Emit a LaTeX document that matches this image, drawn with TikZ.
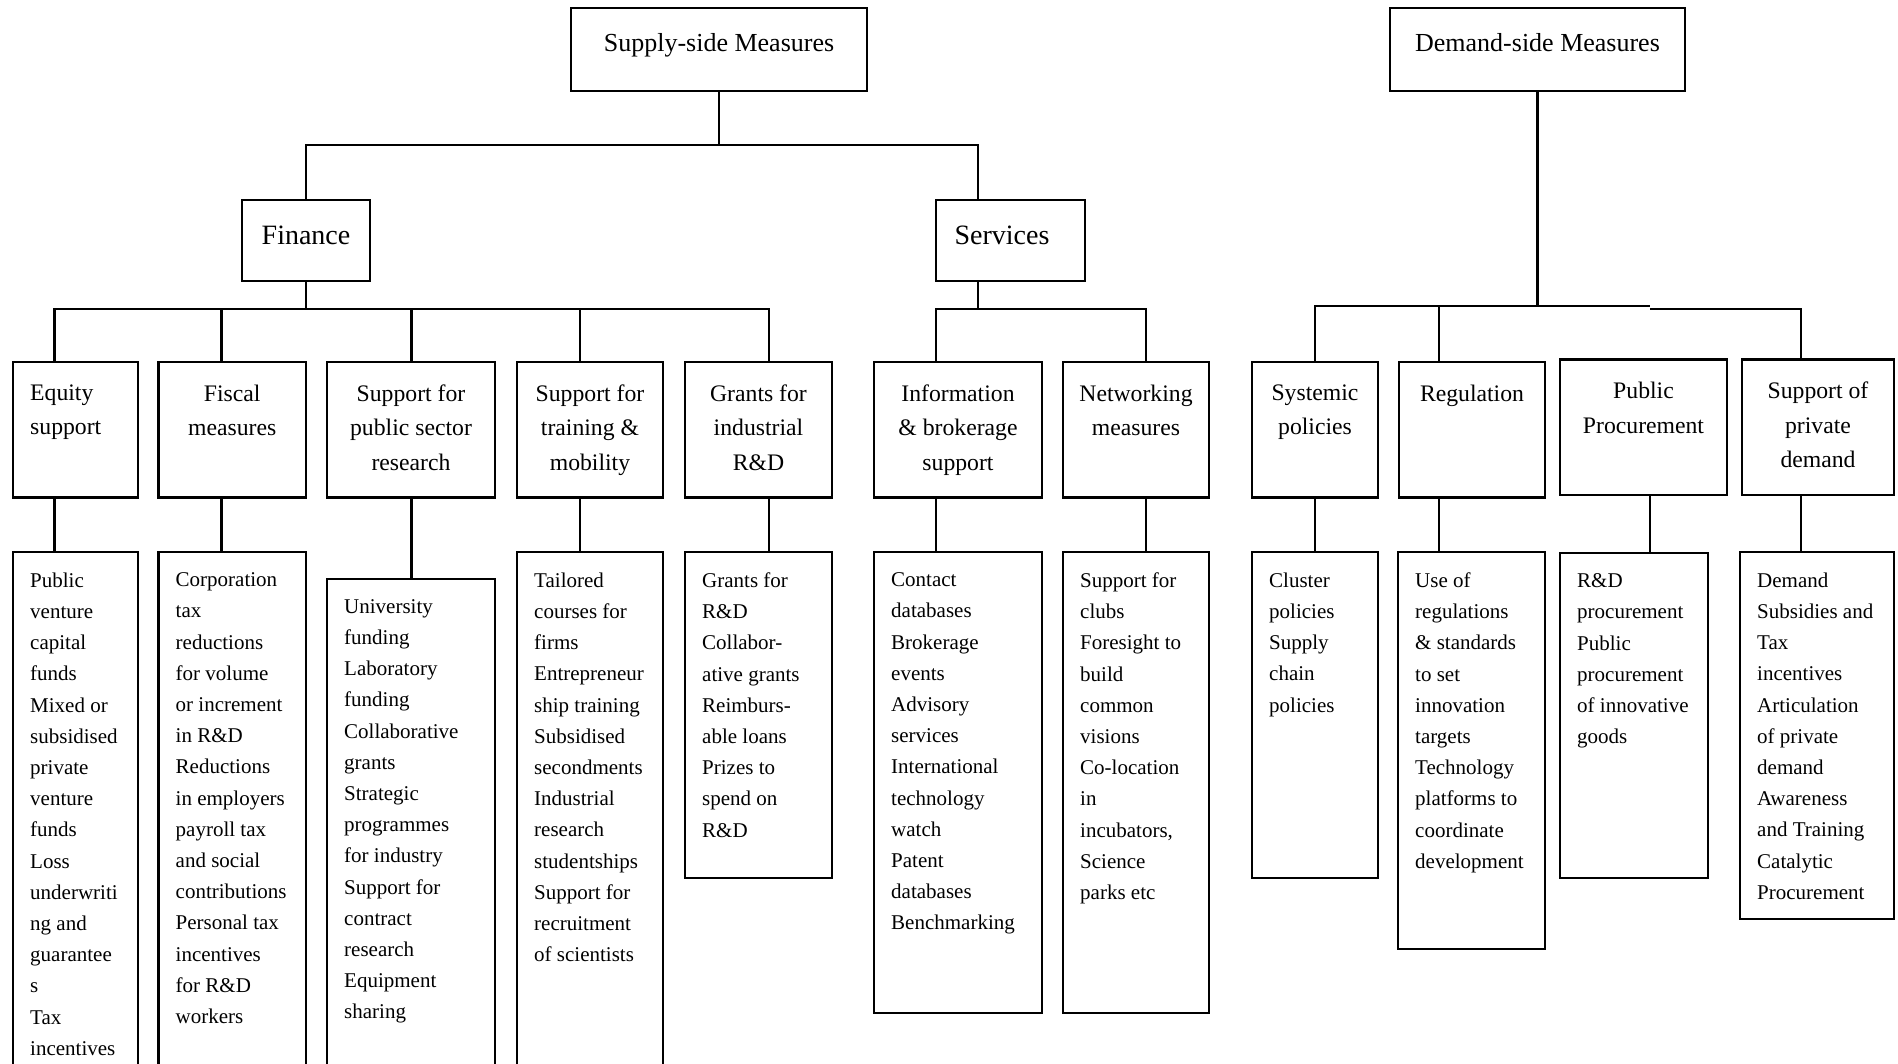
\documentclass[tikz,border=0pt]{standalone}
\usepackage{fontspec}
\setmainfont{Liberation Serif}
\usetikzlibrary{positioning}

\tikzset{
  panel/.style={draw, line width=2.2pt, inner sep=0pt, outer sep=0pt, anchor=north west},
  wire/.style={line width=2.2pt},
  toptext/.style={font=\fontsize{26}{30}\selectfont, inner sep=0pt},
  midtext/.style={font=\fontsize{28}{32}\selectfont, inner sep=0pt},
  headtext/.style={font=\fontsize{23.7}{34.5}\selectfont, align=center, inner sep=0pt},
  listtext/.style={font=\fontsize{21}{31.2}\selectfont, align=left, inner sep=0pt}
}

\begin{document}
\begin{tikzpicture}[x=1pt, y=-1pt]
  \useasboundingbox (0,0) rectangle (1898,1063);
  \clip (0,0) rectangle (1898,1063);

  % top levels
  \node[panel, minimum width=296pt, minimum height=83pt] (sup) at (571,8) {};
  \node[panel, minimum width=295pt, minimum height=83pt] (dem) at (1390,8) {};
  \node[panel, minimum width=128pt, minimum height=81pt] (fin) at (242,200) {};
  \node[panel, minimum width=149pt, minimum height=81pt] (ser) at (936,200) {};
  \node[toptext, below=25pt of sup.north] (sup-t) {Supply-side Measures};
  \node[toptext, below=25pt of dem.north] (dem-t) {Demand-side Measures};
  \node[midtext, below=25.5pt of fin.north] (fin-t) {Finance};
  \node[midtext, below=25.5pt of ser.north, xshift=-8.5pt] (ser-t) {Services};

  % measure headers
  \foreach \n/\x/\w in {eq/13/125, fi/158.5/147.5, ps/327/168, tr/517/146, gr/685/147,
                        in/874/168, ne/1063/146, sy/1252/126, re/1399/146}
    \node[panel, minimum width=\w pt, minimum height=135.5pt] (\n-h) at (\x,362) {};
  \node[panel, minimum width=167pt, minimum height=135.5pt] (pp-h) at (1560,359.5) {};
  \node[panel, minimum width=152pt, minimum height=135.5pt] (pr-h) at (1742,359.5) {};

  % instrument lists
  \foreach \n/\x/\y/\w/\h in {eq/13/552/125/520, fi/158.5/552/147.5/520, ps/327/578.6/168/500,
                              tr/517/552/146/520, gr/685/552/147/325.6, in/874/552/168/461,
                              ne/1063/552/146/461, sy/1252/552/126/325.6, re/1398/552/147/397,
                              pp/1560/553/148/324.6, pr/1740/552/154/367}
    \node[panel, minimum width=\w pt, minimum height=\h pt] (\n-l) at (\x,\y) {};

  \node[headtext, align=left, below right=22.5pt and 17pt of eq-h.north west] (eq-ht) {Equity\\support};
  \node[headtext, below=22.5pt of fi-h.north] (fi-ht) {Fiscal\\measures};
  \node[headtext, below=22.5pt of ps-h.north] (ps-ht) {Support for\\public sector\\research};
  \node[headtext, below=22.5pt of tr-h.north] (tr-ht) {Support for\\training \&\\mobility};
  \node[headtext, below=22.5pt of gr-h.north] (gr-ht) {Grants for\\industrial\\R\&D};
  \node[headtext, below=22.5pt of in-h.north] (in-ht) {Information\\\& brokerage\\support};
  \node[headtext, below=22.5pt of ne-h.north] (ne-ht) {Networking\\measures};
  \node[headtext, below=22.5pt of sy-h.north] (sy-ht) {Systemic\\policies};
  \node[headtext, below=22.5pt of re-h.north] (re-ht) {Regulation};
  \node[headtext, below=22.5pt of pp-h.north] (pp-ht) {Public\\Procurement};
  \node[headtext, below=22.5pt of pr-h.north] (pr-ht) {Support of\\private\\demand};

  \node[listtext, below right=20.5pt and 17pt of eq-l.north west] (eq-lt) {Public\\venture\\capital\\funds\\Mixed or\\subsidised\\private\\venture\\funds\\Loss\\underwriti\\ng and\\guarantee\\s\\Tax\\incentives};
  \node[listtext, below right=20.5pt and 17pt of fi-l.north west] (fi-lt) {Corporation\\tax\\reductions\\for volume\\or increment\\in R\&D\\Reductions\\in employers\\payroll tax\\and social\\contributions\\Personal tax\\incentives\\for R\&D\\workers};
  \node[listtext, below right=20.5pt and 17pt of ps-l.north west] (ps-lt) {University\\funding\\Laboratory\\funding\\Collaborative\\grants\\Strategic\\programmes\\for industry\\Support for\\contract\\research\\Equipment\\sharing};
  \node[listtext, below right=20.5pt and 17pt of tr-l.north west] (tr-lt) {Tailored\\courses for\\firms\\Entrepreneur\\ship training\\Subsidised\\secondments\\Industrial\\research\\studentships\\Support for\\recruitment\\of scientists};
  \node[listtext, below right=20.5pt and 17pt of gr-l.north west] (gr-lt) {Grants for\\R\&D\\Collabor-\\ative grants\\Reimburs-\\able loans\\Prizes to\\spend on\\R\&D};
  \node[listtext, below right=20.5pt and 17pt of in-l.north west] (in-lt) {Contact\\databases\\Brokerage\\events\\Advisory\\services\\International\\technology\\watch\\Patent\\databases\\Benchmarking};
  \node[listtext, below right=20.5pt and 17pt of ne-l.north west] (ne-lt) {Support for\\clubs\\Foresight to\\build\\common\\visions\\Co-location\\in\\incubators,\\Science\\parks etc};
  \node[listtext, below right=20.5pt and 17pt of sy-l.north west] (sy-lt) {Cluster\\policies\\Supply\\chain\\policies};
  \node[listtext, below right=20.5pt and 17pt of re-l.north west] (re-lt) {Use of\\regulations\\\& standards\\to set\\innovation\\targets\\Technology\\platforms to\\coordinate\\development};
  \node[listtext, below right=20.5pt and 17pt of pp-l.north west] (pp-lt) {R\&D\\procurement\\Public\\procurement\\of innovative\\goods};
  \node[listtext, below right=20.5pt and 17pt of pr-l.north west] (pr-lt) {Demand\\Subsidies and\\Tax\\incentives\\Articulation\\of private\\demand\\Awareness\\and Training\\Catalytic\\Procurement};

  % connectors
  \foreach \n/\d in {eq/41.5, fi/63, ps/84.5, tr/63, gr/84, in/62, ne/83, sy/63, re/40, pp/90, pr/59}
    \coordinate (\n-top) at ([xshift=\d pt]\n-h.north west);
  \foreach \n in {eq, fi, ps, tr, gr, in, ne, sy, re, pp, pr}
    \draw[wire] (\n-top |- \n-h.south) -- (\n-top |- \n-l.north);

  \coordinate (supbar) at ([yshift=-54pt]sup.south);
  \draw[wire] (sup.south) -- (supbar);
  \draw[wire] (fin.north) |- (supbar) -| ([xshift=42pt]ser.north west);

  \coordinate (finbar) at ([yshift=-28pt]fin.south);
  \draw[wire] (fin.south) -- (finbar);
  \draw[wire] (eq-top) |- (finbar) -| (gr-top);
  \foreach \n in {fi, ps, tr}
    \draw[wire] (\n-top) -- (\n-top |- finbar);

  \coordinate (serbar) at ([xshift=42pt, yshift=-28pt]ser.south west);
  \draw[wire] (serbar |- ser.south) -- (serbar);
  \draw[wire] (in-top) |- (serbar) -| (ne-top);

  \coordinate (dembar) at ([yshift=-215pt]dem.south);
  \draw[wire] (dem.south) -- (dembar);
  \draw[wire] (sy-top) |- (dembar) -- (dembar -| pp-top);
  \draw[wire] (re-top) -- (re-top |- dembar);
  \draw[wire] ([yshift=-3pt]dembar -| pp-top) -| (pr-top);
\end{tikzpicture}
\end{document}
